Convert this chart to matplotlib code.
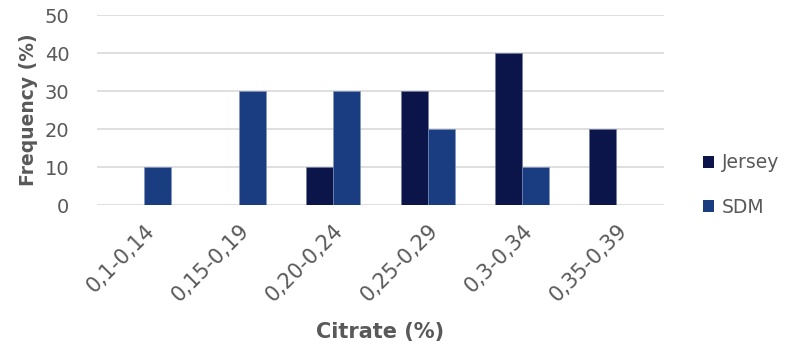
import matplotlib
matplotlib.use("Agg")
import matplotlib.pyplot as plt
import numpy as np
from matplotlib.patches import Patch

categories = ["0,1-0,14", "0,15-0,19", "0,20-0,24", "0,25-0,29", "0,3-0,34", "0,35-0,39"]
jersey = [0, 0, 10, 30, 40, 20]
sdm = [10, 30, 30, 20, 10, 0]

c_jersey = "#0C154A"
c_sdm = "#1A3D82"
txt = "#595959"

plt.rcParams['font.family'] = ['DejaVu Sans']

fig = plt.figure(figsize=(7.92, 3.49), dpi=100)
ax = fig.add_axes([0.1225, 0.4126, 0.838 - 0.1225, 0.957 - 0.4126])

x = np.arange(len(categories))
w = 0.286
ax.bar(x - w / 2, jersey, w, color=c_jersey, edgecolor="#6f7aa0", linewidth=0.4, zorder=3)
ax.bar(x + w / 2, sdm, w, color=c_sdm, edgecolor="#7f93bd", linewidth=0.4, zorder=3)

ax.set_xlim(-0.5, len(categories) - 0.5)
ax.set_ylim(0, 50)
ax.set_yticks(range(0, 51, 10))
ax.yaxis.grid(True, color="#d9d9d9", linewidth=1.2, zorder=0)
ax.set_axisbelow(True)
for s in ax.spines.values():
    s.set_visible(False)
ax.tick_params(axis="both", length=0, colors=txt)
ax.tick_params(axis="y", labelsize=14, pad=20)
ax.set_xticks(x)
ax.set_xticklabels(categories, rotation=45, ha="right", rotation_mode="anchor")
ax.tick_params(axis="x", labelsize=15, pad=11)

ax.set_ylabel("Frequency (%)", fontsize=13.5, fontweight="bold", color=txt)
ax.set_xlabel("Citrate (%)", fontsize=15, fontweight="bold", color=txt)
ax.yaxis.set_label_coords(-0.104, 0.5)
ax.xaxis.set_label_coords(0.5, -0.615)

handles = [Patch(facecolor=c_jersey, label="Jersey"), Patch(facecolor=c_sdm, label="SDM")]
fig.legend(handles=handles, loc="center left", bbox_to_anchor=(0.866, 0.47),
           frameon=False, fontsize=13.5, labelcolor=txt, handlelength=0.6,
           handleheight=0.6, handletextpad=0.4, labelspacing=1.35)

fig.savefig("out.png", dpi=100)
